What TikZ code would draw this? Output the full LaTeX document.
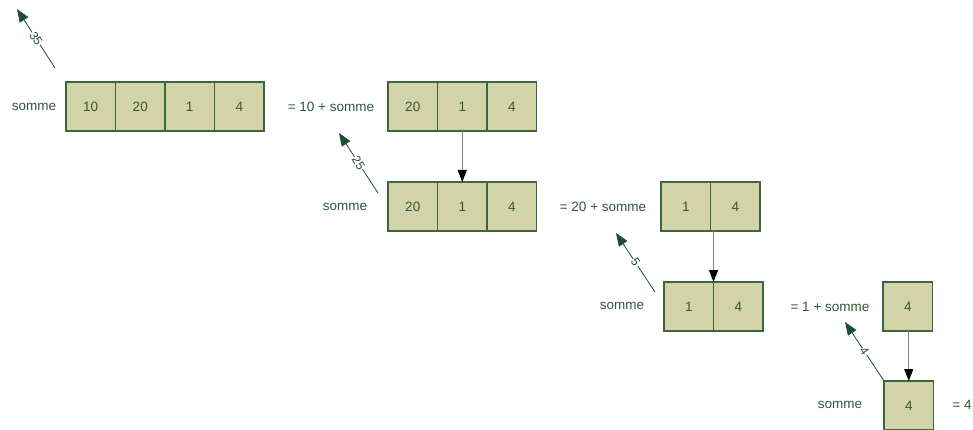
\documentclass[tikz,border=0pt]{standalone}
\usepackage{fontspec}
\setmainfont{Liberation Sans}
\usetikzlibrary{arrows.meta,calc}
\definecolor{fondcase}{RGB}{211,211,170}
\definecolor{bordcase}{RGB}{62,102,62}
\definecolor{vertexte}{RGB}{48,88,58}
\definecolor{vertretour}{RGB}{28,78,46}
\tikzset{
  cellule/.style={draw=bordcase,fill=fondcase,line width=1.2pt,minimum width=49.5pt,
    minimum height=49pt,inner sep=0pt,outer sep=0pt,anchor=north west,text=vertexte,
    font=\fontsize{13.5}{16}\selectfont},
  texte/.style={text=vertexte,font=\fontsize{13.5}{16}\selectfont,inner sep=0pt},
  appel/.style={draw=gray,line width=1.2pt,-{Triangle[length=12pt,width=9pt,black]}},
  retour/.style={draw=vertretour,line width=0.8pt,-{Triangle[length=13pt,width=10pt]}},
  valeur/.style={midway,sloped,fill=white,inner sep=0.5pt,text=vertretour,
    font=\fontsize{12}{14}\selectfont},
}
\newcommand{\tableau}[4]{% nom, x et y du coin haut gauche, valeurs
  \foreach \v [count=\i] in {#4}{
    \node[cellule] (#1\i) at ({#2+49.5*(\i-1)},#3) {\v};
  }
}

\begin{document}
\begin{tikzpicture}[x=1pt,y=-1pt]
  \useasboundingbox (0,0) rectangle (973,430);

  % les tableaux
  \tableau{a}{66}{82}{10,20,1,4}
  \tableau{b}{388}{82}{20,1,4}
  \tableau{c}{388}{182}{20,1,4}
  \tableau{d}{661}{182}{1,4}
  \tableau{e}{664}{282}{1,4}
  \tableau{f}{883}{282}{4}
  \tableau{g}{884}{381}{4}

  % les textes
  \node[texte] (s1) at (34,107) {somme};
  \node[texte] (eq1) at (331,107) {= 10 + somme};
  \node[texte] (s2) at (345,207) {somme};
  \node[texte] (eq2) at (603,207) {= 20 + somme};
  \node[texte] (s3) at (622,306) {somme};
  \node[texte] (eq3) at (830,307) {= 1 + somme};
  \node[texte] (s4) at (840,405) {somme};
  \node[texte] (eq4) at (962,405) {= 4};

  % les appels
  \draw[appel] (b2.south) -- (c2.north);
  \draw[appel] (d1.south -| e1.north east) -- (e1.north east);
  \draw[appel] (f1.south -| g1.north) -- (g1.north);

  % les retours
  \draw[retour] ([shift={(-11,-14)}]a1.north west) coordinate (r1)
    -- ++(-38,-59) coordinate (h1) node[valeur] {35};
  \draw[retour] ([shift={(-10,11)}]c1.north west) coordinate (r2)
    -- ++(-39,-60) coordinate (h2) node[valeur] {25};
  \draw[retour] ([shift={(-9,10)}]e1.north west) coordinate (r3)
    -- ++(-39,-59) coordinate (h3) node[valeur] {5};
  \draw[retour] (g1.north west) coordinate (r4)
    -- ++(-39,-59) coordinate (h4) node[valeur] {4};
\end{tikzpicture}
\end{document}
